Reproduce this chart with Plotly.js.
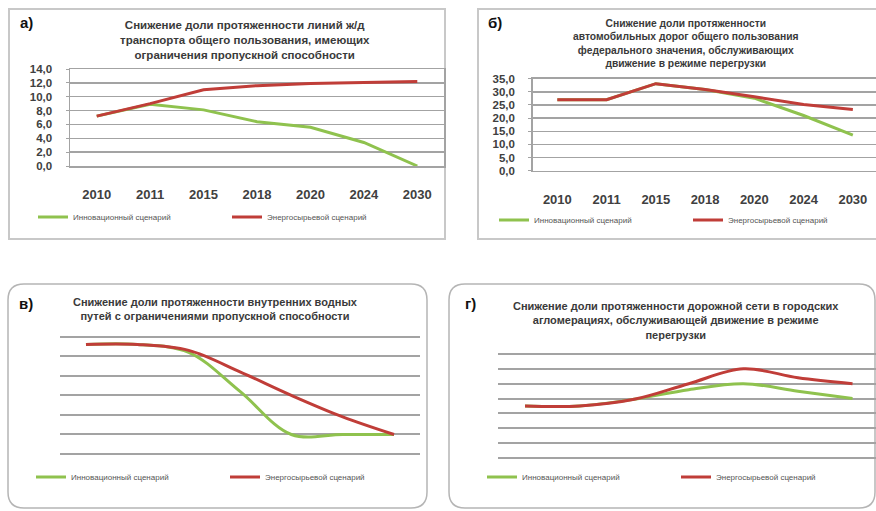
<!DOCTYPE html>
<html>
<head>
<meta charset="utf-8">
<script src="https://cdn.plot.ly/plotly-3.0.1.min.js"></script>
<style>html,body{margin:0;padding:0;background:#fff;overflow:hidden}#chart{width:876px;height:511px}</style>
</head>
<body>
<div id="chart"></div>
<script>
// ---- data ----
const years = ['2010', '2011', '2015', '2018', '2020', '2024', '2030'];
const seriesNames = ['Инновационный сценарий', 'Энергосырьевой сценарий'];
const railInnov  = [7.2, 8.9, 8.1, 6.4, 5.6, 3.4, 0.0];
const railEnergy = [7.2, 9.0, 11.0, 11.6, 11.9, 12.0, 12.2];
const roadInnov  = [27.0, 27.0, 33.1, 30.9, 27.6, 21.0, 13.5];
const roadEnergy = [27.0, 27.0, 33.1, 30.9, 28.1, 25.2, 23.3];
const waterInnov  = [5.6, 5.6, 5.2, 3.2, 1.0, 1.0, 1.0];
const waterEnergy = [5.6, 5.6, 5.3, 4.2, 3.0, 1.9, 1.0];
const cityInnov  = [3.5, 3.5, 3.95, 4.6, 5.0, 4.5, 4.0];
const cityEnergy = [3.5, 3.5, 3.95, 5.0, 6.0, 5.4, 5.0];
const panelLabels = ['а)', 'б)', 'в)', 'г)'];
const titles = [
  'Снижение доли протяженности линий ж/д<br>транспорта общего пользования, имеющих<br>ограничения пропускной способности',
  'Снижение доли протяженности<br>автомобильных дорог общего пользования<br>федерального значения, обслуживающих<br>движение в режиме перегрузки',
  'Снижение доли протяженности внутренних водных<br>путей с ограничениями пропускной способности',
  'Снижение доли протяженности дорожной сети в городских<br>агломерациях, обслуживающей движение в режиме<br>перегрузки'
];

// ---- geometry helpers ----
const W = 876, H = 511;
const px = v => v / W;
const py = v => 1 - v / H;

const GREEN = '#8fc24e', RED = '#c03d38';
const GRID = '#a3a3a3';
const FONT = 'Liberation Sans, Arial, sans-serif';

function tr(x, y, xa, ya, name, color, shape, leg) {
  return {x: x, y: y, xaxis: xa, yaxis: ya, name: name, type: 'scatter', mode: 'lines',
    line: {color: color, width: 3, shape: shape, smoothing: 1}, legend: leg, showlegend: true,
    hoverinfo: 'skip'};
}

const data = [
  tr(years, railInnov, 'x', 'y', seriesNames[0], GREEN, 'linear', 'legend'),
  tr(years, railEnergy, 'x', 'y', seriesNames[1], RED, 'linear', 'legend'),
  tr(years, roadInnov, 'x2', 'y2', seriesNames[0], GREEN, 'linear', 'legend2'),
  tr(years, roadEnergy, 'x2', 'y2', seriesNames[1], RED, 'linear', 'legend2'),
  tr(years, waterInnov, 'x3', 'y3', seriesNames[0], GREEN, 'spline', 'legend3'),
  tr(years, waterEnergy, 'x3', 'y3', seriesNames[1], RED, 'spline', 'legend3'),
  tr(years, cityInnov, 'x4', 'y4', seriesNames[0], GREEN, 'spline', 'legend4'),
  tr(years, cityEnergy, 'x4', 'y4', seriesNames[1], RED, 'spline', 'legend4')
];

const tickFont = {family: FONT, size: 11.5, color: '#404040', weight: 'bold'};
const xTickFont = {family: FONT, size: 13, color: '#404040', weight: 'bold'};

function xAxis(dom, anchor, range, labels) {
  return {domain: dom, anchor: anchor, type: 'category', range: range, showgrid: false,
    zeroline: false, showline: labels, mirror: labels, linecolor: GRID, linewidth: 1.5,
    showticklabels: labels, ticks: '', tickfont: xTickFont, ticklabelstandoff: 16, fixedrange: true};
}
function yAxis(dom, anchor, range, dtick, labels) {
  return {domain: dom, anchor: anchor, range: range, dtick: dtick, tick0: 0, showgrid: true,
    gridcolor: GRID, gridwidth: labels ? 1.5 : 2, zeroline: false, showline: labels, mirror: labels,
    linecolor: GRID, linewidth: 1.5, showticklabels: labels, ticks: labels ? 'outside' : '',
    ticklen: 3, tickcolor: GRID, tickformat: '.1f', tickfont: tickFont, ticklabelstandoff: 11, fixedrange: true};
}

function roundRect(x0, y0, x1, y1, r) {
  const rx = r / W, ry = r / H;
  const X0 = px(x0), X1 = px(x1), Y0 = py(y0), Y1 = py(y1);
  return 'M' + (X0 + rx) + ',' + Y0 + ' L' + (X1 - rx) + ',' + Y0 +
    ' Q' + X1 + ',' + Y0 + ' ' + X1 + ',' + (Y0 - ry) +
    ' L' + X1 + ',' + (Y1 + ry) + ' Q' + X1 + ',' + Y1 + ' ' + (X1 - rx) + ',' + Y1 +
    ' L' + (X0 + rx) + ',' + Y1 + ' Q' + X0 + ',' + Y1 + ' ' + X0 + ',' + (Y1 + ry) +
    ' L' + X0 + ',' + (Y0 - ry) + ' Q' + X0 + ',' + Y0 + ' ' + (X0 + rx) + ',' + Y0 + ' Z';
}

function legendCfg(x, y) {
  return {x: px(x), y: py(y), xanchor: 'left', yanchor: 'middle', orientation: 'h',
    entrywidth: 149, entrywidthmode: 'pixels', itemwidth: 30, bgcolor: 'rgba(0,0,0,0)',
    font: {family: FONT, size: 8, color: '#555555'}, itemclick: false, itemdoubleclick: false};
}

function ann(text, x, y, size, color) {
  return {text: text, xref: 'paper', yref: 'paper', x: px(x), y: py(y), xanchor: 'center',
    yanchor: 'middle', showarrow: false, align: 'center',
    font: {family: FONT, size: size, color: color, weight: 'bold'}};
}

const layout = {
  width: W, height: H, margin: {l: 0, r: 0, t: 0, b: 0, autoexpand: false},
  paper_bgcolor: '#ffffff', plot_bgcolor: 'rgba(0,0,0,0)',
  showlegend: true,
  separators: ',.',
  xaxis:  xAxis([px(70), px(444)], 'y', [-0.5, 6.5], true),
  yaxis:  yAxis([py(166), py(69)], 'x', [0, 14], 2, true),
  xaxis2: xAxis([px(532.7), 1], 'y2', [-0.5, 6.47], true),
  yaxis2: yAxis([py(170.7), py(78.7)], 'x2', [0, 35], 5, true),
  xaxis3: xAxis([px(60.3), px(419.7)], 'y3', [-0.5, 6.5], false),
  yaxis3: yAxis([py(456), py(334.7)], 'x3', [-0.1, 6.1], 1, false),
  xaxis4: xAxis([px(497.7), 1], 'y4', [-0.5, 6.43], false),
  yaxis4: yAxis([py(459.5), py(352.5)], 'x4', [-0.1, 7.1], 1, false),
  legend:  legendCfg(33, 217),
  legend2: legendCfg(494, 220),
  legend3: legendCfg(31, 477),
  legend4: legendCfg(482, 477),
  shapes: [
    {type: 'rect', xref: 'paper', yref: 'paper', x0: px(9), x1: px(445), y0: py(239), y1: py(9),
      line: {color: '#c8c8c8', width: 2}, layer: 'below'},
    {type: 'rect', xref: 'paper', yref: 'paper', x0: px(478), x1: px(880), y0: py(239), y1: py(9),
      line: {color: '#c8c8c8', width: 2}, layer: 'below'},
    {type: 'path', xref: 'paper', yref: 'paper', path: roundRect(8, 284, 427, 508, 16),
      line: {color: '#b5b5b5', width: 1.5}, layer: 'below'},
    {type: 'path', xref: 'paper', yref: 'paper', path: roundRect(449, 284, 875, 508, 16),
      line: {color: '#b5b5b5', width: 1.5}, layer: 'below'}
  ],
  annotations: [
    ann(panelLabels[0], 26, 22, 15, '#111'),
    ann(panelLabels[1], 495, 22, 15, '#111'),
    ann(panelLabels[2], 26, 303, 15, '#111'),
    ann(panelLabels[3], 470, 303, 15, '#111'),
    ann(titles[0], 245, 40, 11.5, '#3a3a3a'),
    ann(titles[1], 686, 43, 10.3, '#3a3a3a'),
    ann(titles[2], 215, 309, 11, '#3a3a3a'),
    ann(titles[3], 676, 320, 11, '#3a3a3a')
  ]
};

Plotly.newPlot('chart', data, layout, {staticPlot: true, displayModeBar: false});
</script>
</body>
</html>
